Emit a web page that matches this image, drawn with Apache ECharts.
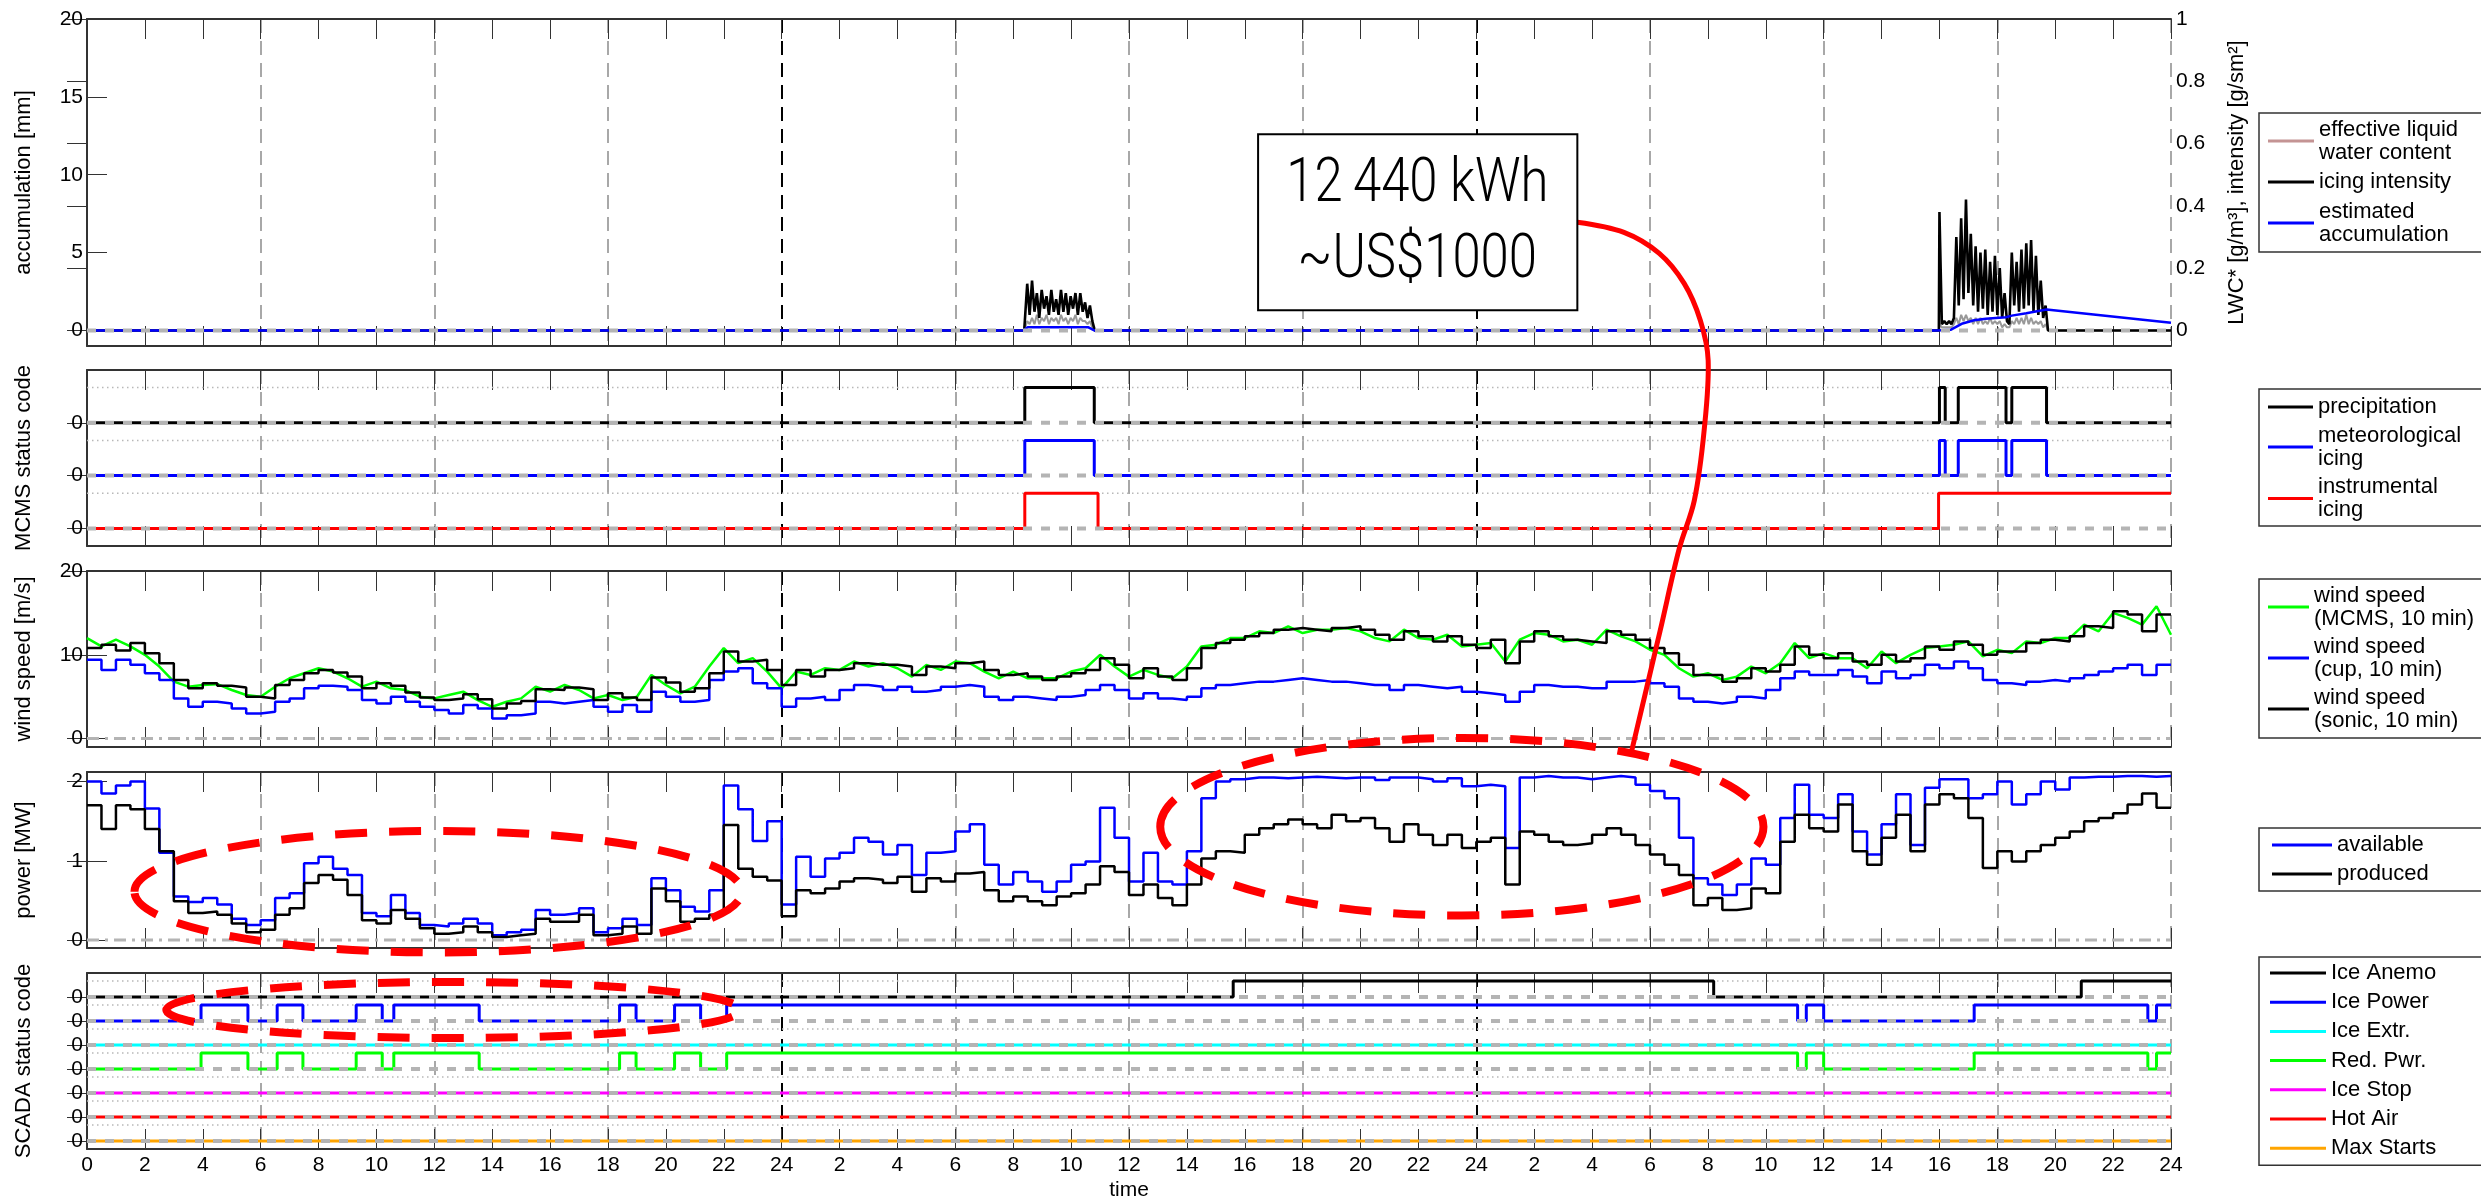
<!DOCTYPE html>
<html>
<head>
<meta charset="utf-8">
<title>Icing event: MCMS, wind, power and SCADA status</title>
<script src="https://cdn.jsdelivr.net/npm/echarts@6/dist/echarts.min.js"></script>
<style>
  html, body { margin: 0; padding: 0; background: #fff; }
  #chart { width: 2481px; height: 1202px; }
</style>
</head>
<body>
<div id="chart"></div>
<script>
// ---------------------------------------------------------------------------
// Data (time axis in hours from the start of day 1, 0..72)
// ---------------------------------------------------------------------------
const xTickLabels = ['0','2','4','6','8','10','12','14','16','18','20','22','24',
  '2','4','6','8','10','12','14','16','18','20','22','24',
  '2','4','6','8','10','12','14','16','18','20','22','24'];

// 30-minute steps, value held over each step
const windSonic = [
  10.8, 11.2, 10.5, 11.4, 10.2, 9.0, 7.0, 6.0, 6.6, 6.3, 6.1, 5.0, 4.8, 6.4, 7.0, 7.8,
  8.2, 7.9, 7.4, 6.0, 6.6, 6.3, 5.5, 4.9, 4.6, 4.8, 5.3, 4.7, 3.6, 4.2, 4.5, 5.9,
  5.8, 6.1, 5.9, 4.6, 5.4, 4.9, 4.6, 7.3, 6.7, 5.6, 6.0, 7.8, 10.4, 9.2, 9.4, 8.2,
  6.4, 8.2, 7.4, 8.2, 8.4, 9.0, 8.8, 8.8, 8.6, 7.6, 8.6, 8.4, 9.0, 9.2, 8.2, 7.6,
  7.8, 7.4, 7.0, 7.4, 7.8, 8.2, 9.6, 8.8, 7.2, 8.4, 7.4, 7.0, 8.4, 10.8, 11.4, 11.8,
  12.2, 12.6, 13.0, 13.2, 13.0, 12.8, 13.2, 13.4, 13.0, 12.4, 11.8, 12.8, 12.2, 11.6, 12.2, 11.2,
  10.8, 11.8, 9.0, 11.6, 12.8, 12.2, 11.8, 11.6, 11.4, 12.8, 12.4, 11.8, 10.8, 10.2, 8.8, 7.6,
  7.6, 6.8, 7.2, 8.4, 8.0, 8.8, 11.0, 10.0, 9.6, 10.2, 9.2, 8.8, 10.0, 9.2, 9.6, 11.0,
  10.6, 11.6, 11.2, 10.0, 10.4, 10.4, 11.4, 11.8, 11.6, 12.2, 13.4, 13.2, 15.2, 14.8, 12.8, 14.8
];
const windCup = [
  9.4, 8.2, 9.4, 8.8, 7.8, 7.0, 4.8, 3.8, 4.4, 4.2, 3.6, 3.0, 3.2, 4.4, 4.8, 6.0,
  6.3, 6.2, 5.8, 4.6, 4.2, 5.0, 4.4, 3.8, 3.4, 3.0, 4.0, 3.6, 2.4, 2.8, 3.0, 4.4,
  4.2, 4.4, 4.6, 3.8, 3.2, 4.0, 3.2, 5.6, 5.0, 4.4, 4.6, 7.0, 8.0, 8.4, 6.6, 6.0,
  3.8, 4.8, 5.0, 4.6, 5.8, 6.4, 6.2, 5.8, 6.2, 5.6, 5.8, 6.2, 6.4, 6.2, 5.0, 4.6,
  5.0, 4.8, 4.6, 5.0, 5.2, 5.8, 6.4, 5.8, 4.8, 5.4, 4.8, 4.6, 5.0, 6.0, 6.4, 6.6,
  6.8, 6.8, 7.0, 7.2, 7.0, 6.8, 6.8, 6.6, 6.4, 6.4, 5.8, 6.4, 6.2, 6.0, 6.2, 5.6,
  5.4, 5.2, 4.4, 5.6, 6.4, 6.2, 6.2, 6.0, 6.0, 6.8, 6.8, 7.0, 6.6, 6.2, 4.8, 4.4,
  4.2, 4.4, 5.0, 4.8, 5.8, 7.2, 8.0, 7.6, 7.6, 8.2, 7.4, 6.6, 8.0, 7.2, 7.6, 8.8,
  8.4, 9.2, 8.4, 7.0, 6.6, 6.4, 6.8, 7.0, 6.8, 7.2, 7.6, 8.0, 8.4, 8.8, 7.6, 8.8
];
// MCMS wind speed, sampled every 30 minutes from 0 h to 72 h
const windMcms = [
  12.0, 11.0, 11.8, 11.0, 10.0, 8.6, 6.8, 6.2, 6.4, 6.5, 5.8, 5.2, 5.0, 6.2, 7.2, 7.8,
  8.4, 8.0, 7.2, 6.2, 6.8, 6.0, 5.8, 5.0, 4.8, 5.2, 5.6, 4.6, 3.8, 4.4, 4.8, 6.2,
  5.6, 6.4, 5.8, 4.8, 5.2, 4.6, 5.0, 7.6, 6.4, 5.4, 6.2, 8.6, 10.8, 9.0, 9.6, 8.0,
  6.0, 8.0, 7.6, 8.4, 8.2, 9.2, 8.6, 9.0, 8.4, 7.4, 8.8, 8.2, 9.2, 9.0, 8.0, 7.2,
  8.0, 7.2, 7.2, 7.2, 8.0, 8.4, 10.0, 8.6, 7.4, 8.2, 7.6, 7.2, 8.6, 11.0, 11.2, 12.0,
  12.0, 12.8, 12.6, 13.4, 12.6, 13.0, 13.0, 13.2, 12.8, 12.0, 11.6, 13.0, 12.0, 11.8, 12.4, 11.0,
  11.2, 11.4, 9.2, 11.8, 12.6, 12.4, 11.6, 11.8, 11.2, 13.0, 12.2, 11.6, 10.6, 10.0, 8.4, 7.4,
  7.8, 7.0, 7.4, 8.6, 7.8, 9.0, 11.4, 9.6, 10.2, 9.6, 9.6, 8.4, 10.4, 9.0, 10.0, 10.8,
  11.0, 11.2, 11.6, 9.8, 10.6, 10.2, 11.6, 11.4, 12.0, 12.0, 13.6, 12.8, 15.0, 14.4, 13.6, 15.8,
  12.4
];

const powerAvailable = [
  2.0, 1.85, 1.95, 2.0, 1.66, 1.1, 0.55, 0.48, 0.53, 0.45, 0.27, 0.19, 0.25, 0.53, 0.59, 0.97,
  1.05, 0.9, 0.82, 0.34, 0.3, 0.57, 0.34, 0.19, 0.17, 0.21, 0.27, 0.21, 0.06, 0.1, 0.13, 0.38,
  0.32, 0.34, 0.4, 0.1, 0.15, 0.27, 0.19, 0.78, 0.63, 0.42, 0.36, 0.63, 1.95, 1.65, 1.25, 1.5,
  0.45, 1.05, 0.8, 1.03, 1.1, 1.29, 1.24, 1.08, 1.2, 0.82, 1.1, 1.12, 1.37, 1.46, 0.95, 0.7,
  0.86, 0.74, 0.61, 0.74, 0.95, 0.99, 1.67, 1.29, 0.74, 1.1, 0.74, 0.7, 1.12, 1.79, 2.0, 2.03,
  2.05, 2.05, 2.04, 2.05, 2.06, 2.05, 2.04, 2.05, 2.05, 2.02, 2.05, 2.05, 2.03, 2.0, 2.04, 1.94,
  1.96, 1.94, 1.16, 2.05, 2.07, 2.05, 2.05, 2.03, 2.05, 2.07, 2.05, 1.96, 1.88, 1.79, 1.29, 0.78,
  0.7, 0.57, 0.7, 1.03, 0.95, 1.54, 1.96, 1.58, 1.54, 1.84, 1.37, 1.08, 1.46, 1.84, 1.2, 1.92,
  2.03, 2.03, 1.79, 1.84, 2.0, 1.71, 1.84, 2.0, 1.9, 2.05, 2.06, 2.06, 2.07, 2.07, 2.06, 2.07
];
const powerProduced = [
  1.7, 1.4, 1.7, 1.65, 1.4, 1.12, 0.49, 0.34, 0.36, 0.32, 0.21, 0.1, 0.13, 0.32, 0.4, 0.72,
  0.82, 0.76, 0.57, 0.25, 0.21, 0.38, 0.27, 0.15, 0.08, 0.1, 0.17, 0.1, 0.04, 0.06, 0.08, 0.27,
  0.23, 0.23, 0.32, 0.06, 0.08, 0.17, 0.08, 0.65, 0.49, 0.23, 0.27, 0.32, 1.45, 0.9, 0.8, 0.75,
  0.3, 0.63, 0.59, 0.65, 0.74, 0.78, 0.76, 0.72, 0.8, 0.61, 0.78, 0.74, 0.84, 0.86, 0.63, 0.49,
  0.55, 0.49, 0.44, 0.55, 0.59, 0.7, 0.93, 0.86, 0.57, 0.7, 0.53, 0.44, 0.7, 1.03, 1.12, 1.1,
  1.33, 1.41, 1.46, 1.52, 1.46, 1.41, 1.58, 1.5, 1.54, 1.41, 1.24, 1.46, 1.33, 1.2, 1.33, 1.16,
  1.24, 1.29, 0.7, 1.37, 1.33, 1.24, 1.2, 1.22, 1.33, 1.41, 1.33, 1.2, 1.08, 0.95, 0.82, 0.44,
  0.53, 0.38, 0.4, 0.65, 0.59, 1.24, 1.58, 1.41, 1.37, 1.71, 1.12, 0.95, 1.29, 1.58, 1.12, 1.71,
  1.84, 1.79, 1.54, 0.91, 1.12, 0.99, 1.12, 1.2, 1.29, 1.37, 1.5, 1.54, 1.6, 1.71, 1.85, 1.67
];

// Icing bursts, 5-minute samples
const burst1Start = 32.4;
const intensityBurst1 = [0.0, 0.15, 0.05, 0.16, 0.06, 0.12, 0.04, 0.13, 0.07, 0.11, 0.05, 0.13, 0.06, 0.10, 0.05,
  0.13, 0.06, 0.12, 0.05, 0.11, 0.07, 0.12, 0.05, 0.12, 0.06, 0.09, 0.04, 0.08, 0.03, 0.0];
const lwcBurst1 = [0.0, 0.03, 0.02, 0.04, 0.02, 0.05, 0.02, 0.04, 0.03, 0.05, 0.02, 0.04, 0.03, 0.04, 0.02,
  0.05, 0.03, 0.04, 0.02, 0.04, 0.03, 0.05, 0.02, 0.04, 0.03, 0.03, 0.02, 0.03, 0.01, 0.0];
const burst2Start = 64.0;
const intensityBurst2 = [0.38, 0.02, 0.03, 0.02, 0.03, 0.02, 0.04, 0.30, 0.08, 0.36, 0.10, 0.42, 0.12, 0.31, 0.08,
  0.27, 0.06, 0.25, 0.07, 0.26, 0.05, 0.22, 0.06, 0.24, 0.05, 0.20, 0.04, 0.12, 0.03, 0.02,
  0.25, 0.08, 0.22, 0.06, 0.26, 0.07, 0.28, 0.08, 0.29, 0.06, 0.24, 0.05, 0.16, 0.04, 0.08, 0.0];
const lwcBurst2 = [0.02, 0.01, 0.01, 0.01, 0.01, 0.01, 0.02, 0.04, 0.02, 0.05, 0.03, 0.05, 0.03, 0.04, 0.02,
  0.04, 0.02, 0.04, 0.02, 0.03, 0.02, 0.04, 0.02, 0.03, 0.02, 0.03, 0.01, 0.02, 0.01, 0.01,
  0.03, 0.02, 0.04, 0.02, 0.04, 0.02, 0.05, 0.02, 0.04, 0.02, 0.03, 0.02, 0.03, 0.01, 0.02, 0.0];

const accumTimes  = [0, 32.35, 32.5, 34.6, 34.8, 63.9, 64.4, 64.8, 65.2, 65.6, 66.3, 66.5, 67.0, 67.7, 72];
const accumValues = [0, 0, 0.2, 0.2, 0, 0, 0.05, 0.45, 0.65, 0.75, 0.85, 0.95, 1.1, 1.35, 0.5];

// Status flags: [on, off] in hours
const precipitationOn = [[32.4, 34.8], [64.0, 64.2], [64.65, 66.3], [66.5, 67.7]];
const meteoIcingOn    = [[32.4, 34.8], [64.0, 64.2], [64.65, 66.3], [66.5, 67.7]];
const instrIcingOn    = [[32.4, 34.93], [63.97, 72]];

const iceAnemoOn = [[39.6, 56.2], [68.9, 72]];
const icePowerOn = [[3.94, 5.56], [6.57, 7.46], [9.3, 10.2], [10.6, 13.55], [18.4, 18.97], [20.3, 21.2],
  [22.1, 59.1], [59.4, 60.0], [65.2, 71.2], [71.5, 72]];
const iceExtrOn  = [];
const redPwrOn   = [[3.94, 5.56], [6.57, 7.46], [9.3, 10.2], [10.6, 13.55], [18.4, 18.97], [20.3, 21.2],
  [22.1, 59.1], [59.4, 60.0], [65.2, 71.2], [71.5, 72]];
const iceStopOn  = [];
const hotAirOn   = [];
const maxStartsOn = [];

// ---------------------------------------------------------------------------
// Helpers
// ---------------------------------------------------------------------------
const FONT = "'Liberation Sans', Arial, Helvetica, sans-serif";
const T_END = 72;
const HALF_HOUR = 0.5;
const FIVE_MIN = 1 / 12;

function heldSteps(values) {
  const d = values.map((v, i) => [i * HALF_HOUR, v]);
  d.push([T_END, values[values.length - 1]]);
  return d;
}
function sampled(values) {
  return values.map((v, i) => [i * HALF_HOUR, v]);
}
function burstTrace(bursts) {
  const d = [[0, 0]];
  bursts.forEach(([start, vals]) => {
    d.push([start - 0.02, 0]);
    vals.forEach((v, i) => d.push([start + i * FIVE_MIN, v]));
  });
  d.push([T_END, 0]);
  return d;
}
function flagTrace(intervals, base) {
  const d = [[0, base]];
  intervals.forEach(([s, e]) => {
    d.push([s, base], [s, base + 1], [e, base + 1]);
    if (e < T_END) d.push([e, base]);
  });
  const last = intervals.length ? intervals[intervals.length - 1][1] : 0;
  if (last < T_END) d.push([T_END, base]);
  return d;
}

function line(name, xi, yi, data, color, width, extra) {
  return Object.assign({
    name: name, type: 'line', xAxisIndex: xi, yAxisIndex: yi, data: data,
    symbol: 'none', showSymbol: false, color: color, silent: true,
    lineStyle: { color: color, width: width }, z: 3
  }, extra || {});
}
function hline(xi, yi, level, color, width, dash, z) {
  return {
    type: 'line', xAxisIndex: xi, yAxisIndex: yi, data: [[0, level], [T_END, level]],
    symbol: 'none', silent: true, color: color,
    lineStyle: { color: color, width: width, type: dash }, z: z
  };
}

// ---------------------------------------------------------------------------
// Layout: five stacked panels sharing one time axis
// ---------------------------------------------------------------------------
const panelTops = [19, 370, 571, 772, 973];
const panelHeights = [327, 176, 176, 176, 176];
const yRanges = [[-1, 20], [-0.5, 4.5], [-1, 20], [-0.1, 2.12], [-0.5, 10.5]];
const yTicks = [[0, 5, 10, 15, 20], [0, 1.5, 3], [0, 10, 20], [0, 1, 2], [0, 1.5, 3, 4.5, 6, 7.5, 9]];
const yNames = ['accumulation [mm]', 'MCMS status code', 'wind speed [m/s]', 'power [MW]', 'SCADA status code'];
const statusPanel = [false, true, false, false, true];

const axisColor = '#333';
const labelStyle = { fontFamily: FONT, fontSize: 21, color: '#000' };

const grids = panelTops.map((t, i) => ({ left: 87, right: 310, top: t, height: panelHeights[i] }));

const xAxes = [];
panelTops.forEach((t, i) => {
  const base = { type: 'value', gridIndex: i, min: 0, max: T_END };
  xAxes.push(Object.assign({}, base, {
    position: 'bottom', interval: 2,
    axisLine: { show: true, onZero: false, lineStyle: { color: axisColor, width: 2 } },
    axisTick: { show: true, inside: true, length: 20, lineStyle: { color: axisColor, width: 1 } },
    axisLabel: Object.assign({ show: i === 4, margin: 6,
      formatter: v => xTickLabels[Math.round(v / 2)] }, labelStyle),
    splitLine: { show: false },
    name: i === 4 ? 'time' : '', nameLocation: 'middle', nameGap: 31,
    nameTextStyle: labelStyle
  }));
  xAxes.push(Object.assign({}, base, {
    position: 'top', interval: 2,
    axisLine: { show: true, onZero: false, lineStyle: { color: axisColor, width: 2 } },
    axisTick: { show: true, inside: true, length: 20, lineStyle: { color: axisColor, width: 1 } },
    axisLabel: { show: false }, splitLine: { show: false }
  }));
  xAxes.push(Object.assign({}, base, {
    position: 'bottom', interval: 6,
    axisLine: { show: false }, axisTick: { show: false }, axisLabel: { show: false },
    splitLine: { show: true, showMinLine: false, showMaxLine: true,
      lineStyle: { color: '#a8a8a8', width: 2, type: [14, 8] } }
  }));
  xAxes.push(Object.assign({}, base, {
    position: 'bottom', interval: 24,
    axisLine: { show: false }, axisTick: { show: false }, axisLabel: { show: false },
    splitLine: { show: true, showMinLine: false, showMaxLine: false,
      lineStyle: { color: '#000', width: 2, type: [14, 8] } }
  }));
});

const yAxes = [];
panelTops.forEach((t, i) => {
  const [mn, mx] = yRanges[i];
  const fmt = statusPanel[i] ? (() => '0') : (v => String(v));
  yAxes.push({
    type: 'value', gridIndex: i, min: mn, max: mx, position: 'left',
    axisLine: { show: true, onZero: false, lineStyle: { color: axisColor, width: 2 } },
    axisTick: { show: true, inside: true, length: 20, customValues: yTicks[i],
      lineStyle: { color: axisColor, width: 1 } },
    axisLabel: Object.assign({ show: true, margin: 4, customValues: yTicks[i], formatter: fmt }, labelStyle),
    splitLine: { show: false },
    name: yNames[i], nameLocation: 'middle', nameRotate: 90, nameGap: 52,
    nameTextStyle: Object.assign({}, labelStyle, { fontSize: 22 })
  });
  if (i === 0) {
    const lwcTicks = [0, 0.2, 0.4, 0.6, 0.8, 1];
    yAxes.push({
      type: 'value', gridIndex: 0, min: -0.05, max: 1, position: 'right',
      axisLine: { show: false },
      axisTick: { show: true, inside: true, length: 20, customValues: lwcTicks,
        lineStyle: { color: axisColor, width: 1 } },
      axisLabel: Object.assign({ show: true, margin: 5, customValues: lwcTicks }, labelStyle),
      splitLine: { show: false },
      name: 'LWC* [g/m\u00b3], intensity [g/sm\u00b2]', nameLocation: 'middle', nameRotate: 90, nameGap: 55,
      nameTextStyle: Object.assign({}, labelStyle, { fontSize: 22 })
    });
  } else {
    yAxes.push({
      type: 'value', gridIndex: i, min: mn, max: mx, position: 'right',
      axisLine: { show: false },
      axisTick: { show: true, inside: true, length: 20, customValues: yTicks[i],
        lineStyle: { color: axisColor, width: 1 } },
      axisLabel: { show: false }, splitLine: { show: false }
    });
  }
});

// ---------------------------------------------------------------------------
// Series
// ---------------------------------------------------------------------------
const BLUE = '#0000ff', GREEN = '#00ff00', RED = '#ff0000', BLACK = '#000000';
const CYAN = '#00ffff', MAGENTA = '#ff00ff', ORANGE = '#ffa500';
const BASE_GRAY = '#b4b4b4';
const DOT_GRAY = '#b8b8b8';
const baseDash = [9, 9];
const zeroDash = [12, 6, 3, 6];

const series = [];

// Panel 1: ice accumulation and icing intensity
series.push(line('effective liquid\nwater content', 0, 1,
  burstTrace([[burst1Start, lwcBurst1], [burst2Start, lwcBurst2]]), '#999999', 2, { z: 2 }));
series.push(line('icing intensity', 0, 1,
  burstTrace([[burst1Start, intensityBurst1], [burst2Start, intensityBurst2]]), BLACK, 2.6, { z: 3 }));
series.push(line('estimated\naccumulation', 0, 0,
  accumTimes.map((t, i) => [t, accumValues[i]]), BLUE, 2.5, { z: 4 }));
series.push(hline(0, 0, 0, BASE_GRAY, 4, baseDash, 5));

// Panel 2: MCMS status flags
[1, 2.5, 4].forEach(l => series.push(hline(4, 2, l, DOT_GRAY, 1.5, [1.5, 3.5], 1)));
series.push(line('precipitation', 4, 2, flagTrace(precipitationOn, 3), BLACK, 3));
series.push(line('meteorological\nicing', 4, 2, flagTrace(meteoIcingOn, 1.5), BLUE, 3));
series.push(line('instrumental\nicing', 4, 2, flagTrace(instrIcingOn, 0), RED, 3));
[0, 1.5, 3].forEach(l => series.push(hline(4, 2, l, BASE_GRAY, 4, baseDash, 5)));

// Panel 3: wind speed
series.push(line('wind speed\n(MCMS, 10 min)', 8, 4, sampled(windMcms), GREEN, 2.5, { z: 2 }));
series.push(line('wind speed\n(cup, 10 min)', 8, 4, heldSteps(windCup), BLUE, 2.5, { step: 'end', z: 3 }));
series.push(line('wind speed\n(sonic, 10 min)', 8, 4, heldSteps(windSonic), BLACK, 2.5, { step: 'end', z: 4 }));
series.push(hline(8, 4, 0, BASE_GRAY, 3, zeroDash, 5));

// Panel 4: power
series.push(line('available', 12, 6, heldSteps(powerAvailable), BLUE, 2.5, { step: 'end', z: 3 }));
series.push(line('produced', 12, 6, heldSteps(powerProduced), BLACK, 2.5, { step: 'end', z: 4 }));
series.push(hline(12, 6, 0, BASE_GRAY, 3, zeroDash, 5));

// Panel 5: SCADA status flags
const scadaRows = [
  ['Ice Anemo', iceAnemoOn, BLACK, 9],
  ['Ice Power', icePowerOn, BLUE, 7.5],
  ['Ice Extr.', iceExtrOn, CYAN, 6],
  ['Red. Pwr.', redPwrOn, GREEN, 4.5],
  ['Ice Stop', iceStopOn, MAGENTA, 3],
  ['Hot Air', hotAirOn, RED, 1.5],
  ['Max Starts', maxStartsOn, ORANGE, 0]
];
scadaRows.forEach(r => series.push(hline(16, 8, r[3] + 1, DOT_GRAY, 1.5, [1.5, 3.5], 1)));
scadaRows.forEach(r => series.push(line(r[0], 16, 8, flagTrace(r[1], r[3]), r[2], 3)));
scadaRows.forEach(r => series.push(hline(16, 8, r[3], BASE_GRAY, 4, baseDash, 5)));

// ---------------------------------------------------------------------------
// Legends (boxed, to the right of each panel)
// ---------------------------------------------------------------------------
const legendText = { fontFamily: FONT, fontSize: 22, lineHeight: 23, color: '#000' };
function legendBox(top, data, itemWidth, gap, padding) {
  return {
    orient: 'vertical', left: 2259, top: top, data: data, icon: 'rect',
    itemWidth: itemWidth, itemHeight: 3, itemGap: gap, padding: padding,
    borderColor: '#333', borderWidth: 1.5, backgroundColor: '#fff',
    selectedMode: false, textStyle: legendText,
    itemStyle: { borderWidth: 0 }
  };
}
const legends = [
  legendBox(113, [{ name: 'effective liquid\nwater content', itemStyle: { color: '#c49494' } },
    'icing intensity', 'estimated\naccumulation'], 46, 6.5, [5, 60, 6, 9]),
  legendBox(389, ['precipitation', 'meteorological\nicing', 'instrumental\nicing'], 45, 5.5, [6.5, 60, 4.5, 9]),
  legendBox(579, ['wind speed\n(MCMS, 10 min)', 'wind speed\n(cup, 10 min)', 'wind speed\n(sonic, 10 min)'],
    41, 5, [5, 60, 6, 9]),
  legendBox(828, ['available', 'produced'], 60, 6, [5.5, 90, 5.5, 13]),
  legendBox(957, scadaRows.map(r => r[0]), 56, 6.2, [4.5, 90, 5.5, 11])
];

const chart = echarts.init(document.getElementById('chart'), null, { renderer: 'canvas', width: 2481, height: 1202 });
chart.setOption({
  animation: false,
  backgroundColor: '#ffffff',
  grid: grids,
  xAxis: xAxes,
  yAxis: yAxes,
  legend: legends,
  series: series
});

// ---------------------------------------------------------------------------
// Annotations: loss estimate box with leader line, and dashed highlight ellipses
// ---------------------------------------------------------------------------
function toPx(xi, yi, h, v) {
  return [chart.convertToPixel({ xAxisIndex: xi }, h), chart.convertToPixel({ yAxisIndex: yi }, v)];
}
// ellipses: [bottom x axis, y axis, centre hour, centre value, half-width h, half-height]
const highlights = [
  [12, 6, 12.13, 0.61, 10.49, 0.766],
  [12, 6, 47.5, 1.43, 10.42, 1.12],
  [16, 8, 12.66, 8.19, 9.92, 1.75]
];
const graphics = highlights.map(([xi, yi, ch, cv, rh, rv]) => {
  const c = toPx(xi, yi, ch, cv);
  const e = toPx(xi, yi, ch + rh, cv + rv);
  return {
    type: 'ellipse', z: 100, silent: true,
    shape: { cx: c[0], cy: c[1], rx: Math.abs(e[0] - c[0]), ry: Math.abs(c[1] - e[1]) },
    style: { fill: null, stroke: '#ff0000', lineWidth: 8, lineDash: [32, 22] }
  };
});

// leader line, in panel-1 units (hours, mm)
const leader = [[51.49, 6.95], [53.1, 6.3], [54.32, 4.95], [55.18, 3.02], [55.74, 0.64], [56.01, -1.93],
  [55.87, -6.43], [55.53, -10.93], [55.01, -14.02], [54.35, -19.29], [53.35, -27.14]];
graphics.push({
  type: 'polyline', z: 101, silent: true,
  shape: { points: leader.map(p => toPx(0, 0, p[0], p[1])), smooth: 0.35 },
  style: { fill: null, stroke: '#ff0000', lineWidth: 5 }
});

const boxTL = toPx(0, 0, 40.46, 12.6);
const boxBR = toPx(0, 0, 51.49, 1.29);
graphics.push({
  type: 'rect', z: 102, silent: true,
  shape: { x: boxTL[0], y: boxTL[1], width: boxBR[0] - boxTL[0], height: boxBR[1] - boxTL[1] },
  style: { fill: '#fff', stroke: '#000', lineWidth: 2 }
});
const noteLines = ['12\u2009440 kWh', '~US$1000'];
const noteCentres = [[45.96, 9.32], [45.96, 4.44]];
noteLines.forEach((txt, i) => {
  const p = toPx(0, 0, noteCentres[i][0], noteCentres[i][1]);
  graphics.push({
    type: 'text', z: 103, silent: true, x: p[0], y: p[1], scaleX: 0.82,
    style: { text: txt, x: 0, y: 0, align: 'center', verticalAlign: 'middle',
      font: '300 62px Roboto, "Liberation Sans", sans-serif', fill: '#000' }
  });
});
chart.setOption({ graphic: graphics });
</script>
</body>
</html>
